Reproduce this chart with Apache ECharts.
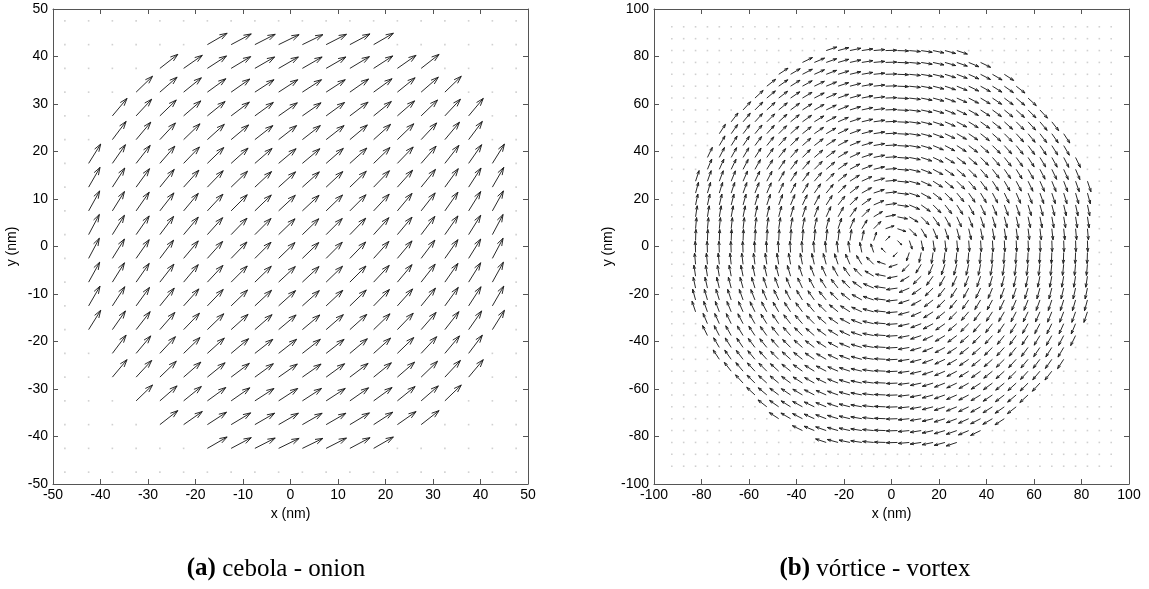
<!DOCTYPE html>
<html lang="en">
<head>
<meta charset="UTF-8">
<title>cebola / vórtice</title>
<script src="https://cdn.jsdelivr.net/npm/echarts@6/dist/echarts.min.js"></script>
<style>
    html, body { margin: 0; padding: 0; background: #fff; }
    #main { width: 1149px; height: 589px; }
</style>
</head>
<body>
<div id="main"></div>
<script>
// ---- onion (left): 5 nm grid, arrows inside the disc, angles in degrees
var onionGrid = [-47.5, -42.5, -37.5, -32.5, -27.5, -22.5, -17.5, -12.5, -7.5, -2.5,
                 2.5, 7.5, 12.5, 17.5, 22.5, 27.5, 32.5, 37.5, 42.5, 47.5];
var onionRowY = [42.5, 37.5, 32.5, 27.5, 22.5, 17.5, 12.5, 7.5, 2.5,
                 -2.5, -7.5, -12.5, -17.5, -22.5, -27.5, -32.5, -37.5, -42.5];
var onionRowX0 = [-17.5, -27.5, -32.5, -37.5, -37.5, -42.5, -42.5, -42.5, -42.5,
                  -42.5, -42.5, -42.5, -42.5, -37.5, -37.5, -32.5, -27.5, -17.5];
var onionAngle = [
    [30, 28, 27, 26, 26, 27, 28, 30],
    [38, 35, 33, 31, 30, 30, 30, 30, 31, 33, 35, 38],
    [44, 41, 39, 36, 35, 33, 33, 33, 33, 35, 36, 39, 41, 44],
    [50, 47, 44, 41, 39, 37, 36, 35, 35, 36, 37, 39, 41, 44, 47, 50],
    [53, 50, 47, 44, 42, 40, 38, 38, 38, 38, 40, 42, 44, 47, 50, 53],
    [58, 55, 52, 49, 46, 44, 42, 41, 40, 40, 41, 42, 44, 46, 49, 52, 55, 58],
    [60, 57, 54, 51, 48, 46, 44, 43, 42, 42, 43, 44, 46, 48, 51, 54, 57, 60],
    [61, 58, 55, 52, 50, 47, 45, 44, 43, 43, 44, 45, 47, 50, 52, 55, 58, 61],
    [62, 58, 55, 53, 50, 48, 46, 45, 44, 44, 45, 46, 48, 50, 53, 55, 58, 62],
    [62, 58, 55, 53, 50, 48, 46, 45, 44, 44, 45, 46, 48, 50, 53, 55, 58, 62],
    [61, 58, 55, 52, 50, 47, 45, 44, 43, 43, 44, 45, 47, 50, 52, 55, 58, 61],
    [60, 57, 54, 51, 48, 46, 44, 43, 42, 42, 43, 44, 46, 48, 51, 54, 57, 60],
    [58, 55, 52, 49, 46, 44, 42, 41, 40, 40, 41, 42, 44, 46, 49, 52, 55, 58],
    [53, 50, 47, 44, 42, 40, 38, 38, 38, 38, 40, 42, 44, 47, 50, 53],
    [50, 47, 44, 41, 39, 37, 36, 35, 35, 36, 37, 39, 41, 44, 47, 50],
    [44, 41, 39, 36, 35, 33, 33, 33, 33, 35, 36, 39, 41, 44],
    [38, 35, 33, 31, 30, 30, 30, 30, 31, 33, 35, 38],
    [30, 28, 27, 26, 26, 27, 28, 30]
];
var onionLength = 4.8;
var onionTicks = [-50, -40, -30, -20, -10, 0, 10, 20, 30, 40, 50];

// ---- vortex (right): 5 nm grid, clockwise curl, shorter arrows near the core
var vortexGrid = [-92.5, -87.5, -82.5, -77.5, -72.5, -67.5, -62.5, -57.5, -52.5, -47.5,
                  -42.5, -37.5, -32.5, -27.5, -22.5, -17.5, -12.5, -7.5, -2.5,
                  2.5, 7.5, 12.5, 17.5, 22.5, 27.5, 32.5, 37.5, 42.5, 47.5,
                  52.5, 57.5, 62.5, 67.5, 72.5, 77.5, 82.5, 87.5, 92.5];
var vortexRowY = [82.5, 77.5, 72.5, 67.5, 62.5, 57.5, 52.5, 47.5, 42.5, 37.5, 32.5, 27.5,
                  22.5, 17.5, 12.5, 7.5, 2.5, -2.5, -7.5, -12.5, -17.5, -22.5, -27.5,
                  -32.5, -37.5, -42.5, -47.5, -52.5, -57.5, -62.5, -67.5, -72.5, -77.5, -82.5];
var vortexHalfWidth = [27.5, 37.5, 47.5, 52.5, 57.5, 62.5, 67.5, 72.5, 72.5, 77.5, 77.5, 82.5,
                       82.5, 82.5, 82.5, 82.5, 82.5, 82.5, 82.5, 82.5, 82.5, 82.5, 82.5,
                       77.5, 77.5, 72.5, 72.5, 67.5, 62.5, 57.5, 52.5, 47.5, 37.5, 27.5];
var vortexSense = -1;                       // -1 = clockwise
var vortexRingLength = [2.6, 3.8, 4.3, 4.7]; // arrow length per 5 nm ring from the centre
var vortexTicks = [-100, -80, -60, -40, -20, 0, 20, 40, 60, 80, 100];

// build the series data
var onionArrows = [], onionDots = [], onionUsed = {};
for (var i = 0; i < onionRowY.length; i++) {
    for (var j = 0; j < onionAngle[i].length; j++) {
        var x = onionRowX0[i] + 5 * j, y = onionRowY[i];
        var t = onionAngle[i][j] * Math.PI / 180;
        onionArrows.push([x, y, onionLength * Math.cos(t), onionLength * Math.sin(t)]);
        onionUsed[x + ',' + y] = true;
    }
}
onionGrid.forEach(function (gy) {
    onionGrid.forEach(function (gx) {
        if (!onionUsed[gx + ',' + gy]) onionDots.push([gx, gy]);
    });
});

var vortexArrows = [], vortexDots = [], vortexUsed = {};
for (var k = 0; k < vortexRowY.length; k++) {
    var vy = vortexRowY[k];
    for (var vx = -vortexHalfWidth[k]; vx <= vortexHalfWidth[k]; vx += 5) {
        var r = Math.sqrt(vx * vx + vy * vy);
        var L = vortexRingLength[Math.min(Math.floor(r / 5), vortexRingLength.length - 1)];
        vortexArrows.push([vx, vy, -vortexSense * L * vy / r, vortexSense * L * vx / r]);
        vortexUsed[vx + ',' + vy] = true;
    }
}
vortexGrid.forEach(function (gy) {
    vortexGrid.forEach(function (gx) {
        if (!vortexUsed[gx + ',' + gy]) vortexDots.push([gx, gy]);
    });
});

// quiver style arrow: shaft + two head strokes (same proportions as matlab quiver)
function renderArrow(params, api) {
    var x = api.value(0), y = api.value(1), u = api.value(2), v = api.value(3);
    var a = 0.33, b = 0.33;
    var p0 = api.coord([x, y]);
    var p1 = api.coord([x + u, y + v]);
    var h1 = api.coord([x + u - a * (u + b * v), y + v - a * (v - b * u)]);
    var h2 = api.coord([x + u - a * (u - b * v), y + v - a * (v + b * u)]);
    var st = {stroke: '#1e1e1e', lineWidth: 0.95, fill: null};
    return {
        type: 'group',
        children: [
            {type: 'polyline', shape: {points: [p0, p1]}, style: st},
            {type: 'polyline', shape: {points: [h1, p1, h2]}, style: st}
        ]
    };
}

var axisColor = '#555';
var labelFont = {color: '#000', fontFamily: 'Liberation Sans', fontSize: 14};

function xAxes(g, ticks, nameGap) {
    var base = {
        type: 'value', gridIndex: g, min: ticks[0], max: ticks[ticks.length - 1],
        interval: ticks[1] - ticks[0],
        axisLine: {show: true, onZero: false, lineStyle: {color: axisColor, width: 1}},
        axisTick: {show: true, inside: true, length: 5, lineStyle: {color: axisColor}},
        splitLine: {show: false}
    };
    var bottom = Object.assign({}, base, {
        position: 'bottom',
        axisLabel: Object.assign({show: true, margin: 4, showMinLabel: true, showMaxLabel: true}, labelFont),
        name: 'x (nm)', nameLocation: 'middle', nameGap: nameGap, nameTextStyle: labelFont
    });
    var top = Object.assign({}, base, {position: 'top', axisLabel: {show: false}});
    return [bottom, top];
}

function yAxes(g, ticks, nameGap) {
    var base = {
        type: 'value', gridIndex: g, min: ticks[0], max: ticks[ticks.length - 1],
        interval: ticks[1] - ticks[0],
        axisLine: {show: true, onZero: false, lineStyle: {color: axisColor, width: 1}},
        axisTick: {show: true, inside: true, length: 5, lineStyle: {color: axisColor}},
        splitLine: {show: false}
    };
    var left = Object.assign({}, base, {
        position: 'left',
        axisLabel: Object.assign({show: true, margin: 5, showMinLabel: true, showMaxLabel: true}, labelFont),
        name: 'y (nm)', nameLocation: 'middle', nameGap: nameGap, nameTextStyle: labelFont
    });
    var right = Object.assign({}, base, {position: 'right', axisLabel: {show: false}});
    return [left, right];
}

var dotStyle = {color: '#c4c4c4'};
var capFont = 'Liberation Serif';

var myChart = echarts.init(document.getElementById('main'));

var option = {
    animation: false,
    grid: [
        {left: 53, top: 9, width: 475, height: 475},
        {left: 654, top: 9, width: 475, height: 475}
    ],
    xAxis: xAxes(0, onionTicks, 20).concat(xAxes(1, vortexTicks, 20)),
    yAxis: yAxes(0, onionTicks, 34).concat(yAxes(1, vortexTicks, 39)),
    series: [
        {type: 'scatter', xAxisIndex: 0, yAxisIndex: 0, data: onionDots, symbol: 'rect',
         symbolSize: 1.6, itemStyle: dotStyle, silent: true},
        {type: 'custom', xAxisIndex: 0, yAxisIndex: 0, data: onionArrows,
         renderItem: renderArrow, encode: {x: 0, y: 1}, silent: true},
        {type: 'scatter', xAxisIndex: 2, yAxisIndex: 2, data: vortexDots, symbol: 'rect',
         symbolSize: 1.6, itemStyle: dotStyle, silent: true},
        {type: 'custom', xAxisIndex: 2, yAxisIndex: 2, data: vortexArrows,
         renderItem: renderArrow, encode: {x: 0, y: 1}, silent: true}
    ],
    graphic: [
        {type: 'text', x: 276, y: 569, style: {
            text: '{b|(a)}{n| cebola - onion}',
            align: 'center', verticalAlign: 'middle', textAlign: 'center', textVerticalAlign: 'middle',
            rich: {
                b: {fontFamily: capFont, fontSize: 25, fontWeight: 'bold', fill: '#000'},
                n: {fontFamily: capFont, fontSize: 25, fill: '#000'}
            }
        }},
        {type: 'text', x: 875, y: 569, style: {
            text: '{b|(b)}{n| vórtice - vortex}',
            align: 'center', verticalAlign: 'middle', textAlign: 'center', textVerticalAlign: 'middle',
            rich: {
                b: {fontFamily: capFont, fontSize: 25, fontWeight: 'bold', fill: '#000'},
                n: {fontFamily: capFont, fontSize: 25, fill: '#000'}
            }
        }}
    ]
};

myChart.setOption(option);
</script>
</body>
</html>
